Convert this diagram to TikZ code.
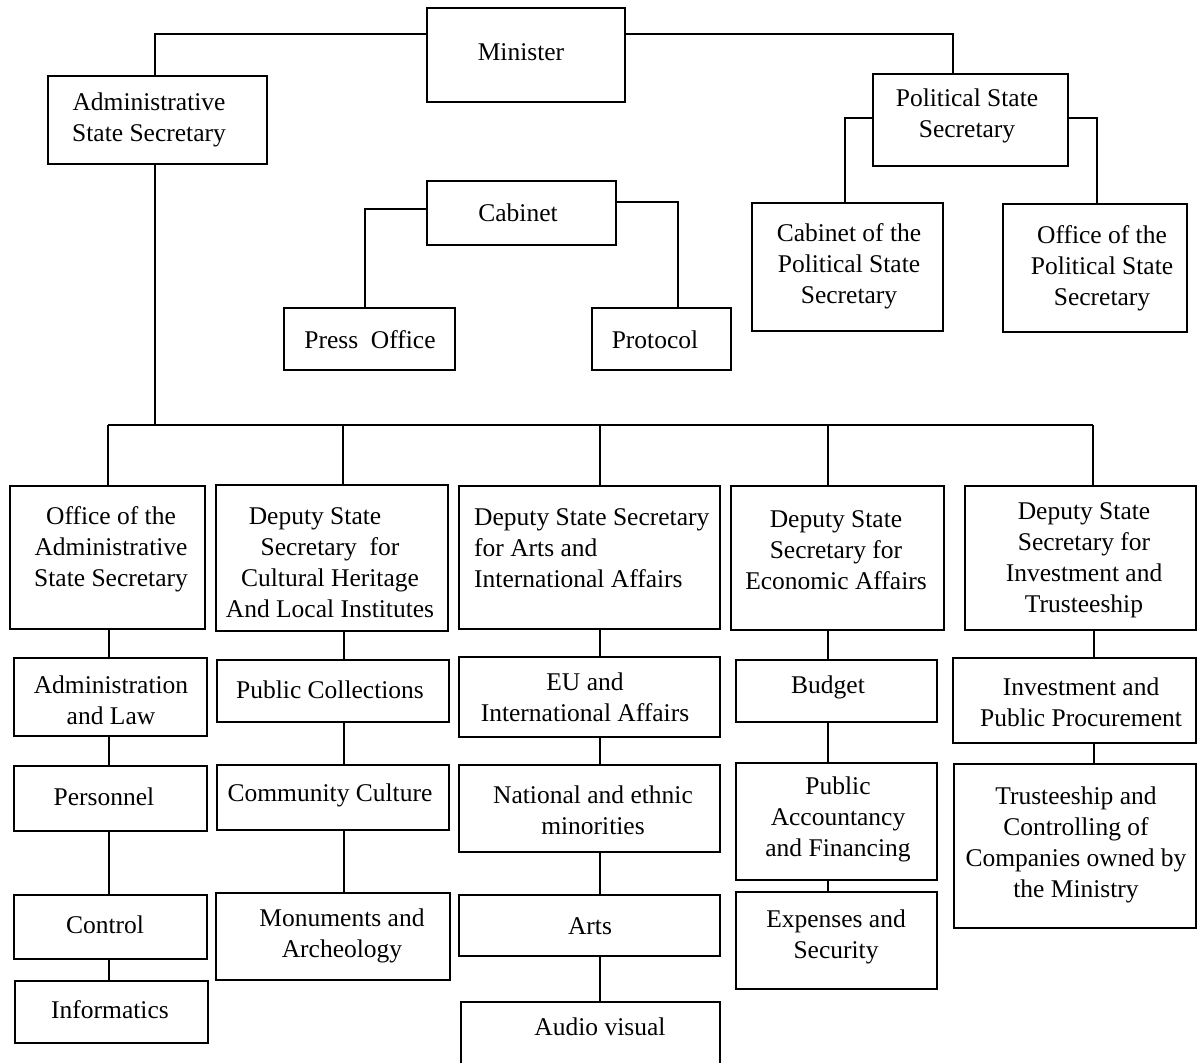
\documentclass[tikz,border=0pt]{standalone}
\usepackage{fontspec}
\setmainfont{Liberation Serif}
% \orgbox{name}{x1}{y1}{x2}{y2}{text x}{text y}{text}
\newcommand\orgbox[8]{%
  \node[box, minimum width={#4-#2}, minimum height={#5-#3}] (#1) at ({(#2+#4)/2},{(#3+#5)/2}) {};
  \node[txt] (#1-t) at (#6,#7) {#8};
}
\begin{document}
\begin{tikzpicture}[x=1pt,y=-1pt,
  box/.style={draw, line width=1.8pt, inner sep=0pt, outer sep=0pt},
  txt/.style={font=\fontsize{25.5}{31}\selectfont, align=center, inner sep=0pt},
  link/.style={line width=1.8pt}]
\useasboundingbox (0,0) rectangle (1198,1062);
\clip (0,0) rectangle (1198,1062);

% upper management
\orgbox{min}{427}{8}{625}{102}{521}{52}{Minister}
\orgbox{adm}{48}{76}{267}{164}{149}{120}{Administrative\\State Secretary}
\orgbox{pol}{873}{74}{1068}{166}{967}{116}{Political State\\Secretary}
\orgbox{cab}{427}{181}{616}{245}{518}{213}{Cabinet}
\orgbox{press}{284}{308}{455}{370}{370}{340}{Press\ \ Office}
\orgbox{proto}{592}{308}{731}{370}{655}{340}{Protocol}
\orgbox{cps}{752}{203}{943}{331}{849}{266}{Cabinet of the\\Political State\\Secretary}
\orgbox{ops}{1003}{204}{1187}{332}{1102}{268}{Office of the\\Political State\\Secretary}

% deputy level
\orgbox{o1}{10}{486}{205}{629}{111}{549}{Office of the\\Administrative\\State Secretary}
\orgbox{o2}{216}{485}{448}{631}{330}{563}{Deputy State\hspace*{30pt}\\Secretary\ \ for\hspace*{30pt}\\Cultural Heritage\\And Local Institutes}
\node[box, minimum width=261, minimum height=143] (o3) at (589.5,557.5) {};
\node[txt, align=left, anchor=west] (o3-t) at (474,548) {Deputy State Secretary\\for Arts and\\International Affairs};
\orgbox{o4}{731}{486}{944}{630}{836}{550}{Deputy State\\Secretary for\\Economic Affairs}
\orgbox{o5}{965}{486}{1196}{630}{1084}{560}{Deputy State\\Secretary for\\Investment and\\Trusteeship}

% departments
\orgbox{a1}{14}{658}{207}{736}{111}{700}{Administration\\and Law}
\orgbox{b1}{14}{766}{207}{831}{104}{797}{Personnel}
\orgbox{c1}{14}{895}{207}{959}{105}{925}{Control}
\orgbox{e1}{15}{981}{208}{1043}{110}{1010}{Informatics}

\orgbox{a2}{217}{660}{449}{722}{330}{690}{Public Collections}
\orgbox{b2}{217}{765}{449}{830}{330}{795}{Community Culture}
\orgbox{c2}{216}{893}{450}{980}{342}{936}{Monuments and\\Archeology}

\orgbox{a3}{459}{657}{720}{737}{585}{697}{EU and\\International Affairs}
\orgbox{b3}{459}{765}{720}{852}{593}{810}{National and ethnic\\minorities}
\orgbox{c3}{459}{895}{720}{956}{590}{926}{Arts}
\orgbox{e3}{461}{1002}{720}{1080}{600}{1027}{Audio visual}

\orgbox{a4}{736}{660}{937}{722}{828}{687}{Budget}
\orgbox{b4}{736}{763}{937}{880}{838}{819}{Public\\Accountancy\\and Financing}
\orgbox{c4}{736}{892}{937}{989}{836}{937}{Expenses and\\Security}

\orgbox{a5}{953}{658}{1196}{743}{1081}{702}{Investment and\\Public Procurement}
\orgbox{b5}{954}{764}{1196}{928}{1076}{845}{Trusteeship and\\Controlling of\\Companies owned by\\the Ministry}

% connectors, upper part
\draw[link] (min.west |- 0,34) -| (adm.north -| 155,0);
\draw[link] (min.east |- 0,34) -| (pol.north -| 953,0);
\draw[link] (pol.west |- 0,118) -| (cps.north -| 845,0);
\draw[link] (pol.east |- 0,118) -| (ops.north -| 1097,0);
\draw[link] (cab.west |- 0,209) -| (press.north -| 365,0);
\draw[link] (cab.east |- 0,202) -| (proto.north -| 678,0);

% bus to deputy level
\coordinate (busL) at (108,425);
\coordinate (busR) at (1093,425);
\draw[link] (adm.south -| 155,0) -- (busL -| 155,0);
\draw[link] (busL) -- (busR);
\draw[link] (busL) -- (o1.north -| busL);
\draw[link] (busL -| 343,0) -- (o2.north -| 343,0);
\draw[link] (busL -| 600,0) -- (o3.north -| 600,0);
\draw[link] (busL -| 828,0) -- (o4.north -| 828,0);
\draw[link] (busR) -- (o5.north -| busR);

% column chains
\draw[link] (o1.south -| 109,0) -- (a1.north -| 109,0);
\draw[link] (a1.south -| 109,0) -- (b1.north -| 109,0);
\draw[link] (b1.south -| 109,0) -- (c1.north -| 109,0);
\draw[link] (c1.south -| 109,0) -- (e1.north -| 109,0);

\draw[link] (o2.south -| 344,0) -- (a2.north -| 344,0);
\draw[link] (a2.south -| 344,0) -- (b2.north -| 344,0);
\draw[link] (b2.south -| 344,0) -- (c2.north -| 344,0);

\draw[link] (o3.south -| 600,0) -- (a3.north -| 600,0);
\draw[link] (a3.south -| 600,0) -- (b3.north -| 600,0);
\draw[link] (b3.south -| 600,0) -- (c3.north -| 600,0);
\draw[link] (c3.south -| 600,0) -- (e3.north -| 600,0);

\draw[link] (o4.south -| 828,0) -- (a4.north -| 828,0);
\draw[link] (a4.south -| 828,0) -- (b4.north -| 828,0);
\draw[link] (b4.south -| 828,0) -- (c4.north -| 828,0);

\draw[link] (o5.south -| 1094,0) -- (a5.north -| 1094,0);
\draw[link] (a5.south -| 1094,0) -- (b5.north -| 1094,0);
\end{tikzpicture}
\end{document}
